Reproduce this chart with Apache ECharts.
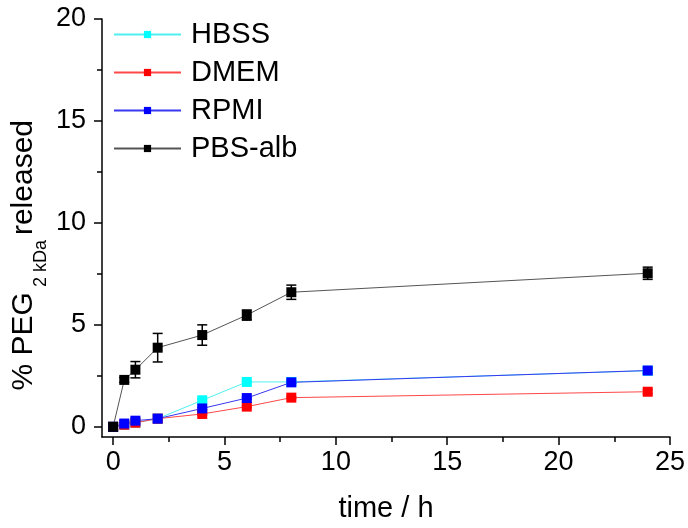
<!DOCTYPE html>
<html>
<head>
<meta charset="utf-8">
<script src="https://cdn.jsdelivr.net/npm/echarts@6/dist/echarts.min.js"></script>
<style>html,body{margin:0;padding:0;background:#fff;}#c{width:688px;height:528px;}</style>
</head>
<body>
<div id="c"></div>
<script>
var times = [0, 0.5, 1, 2, 4, 6, 8, 24];
var hbss = [0, 0.1, 0.2, 0.4, 1.3, 2.2, 2.2, 2.75];
var dmem = [0, 0.1, 0.2, 0.4, 0.63, 0.99, 1.43, 1.72];
var rpmi = [0, 0.16, 0.3, 0.4, 0.9, 1.41, 2.18, 2.76];
var pbsAlb = [0, 2.3, 2.8, 3.88, 4.5, 5.48, 6.6, 7.53];
var hbssErr = [0, 0, 0, 0, 0.05, 0.05, 0.05, 0.1];
var dmemErr = [0, 0, 0, 0, 0.05, 0.05, 0.05, 0.1];
var rpmiErr = [0, 0, 0, 0, 0.05, 0.05, 0.05, 0.15];
var pbsAlbErr = [0, 0.12, 0.4, 0.7, 0.5, 0.25, 0.35, 0.3];
var xMajor = [0, 5, 10, 15, 20, 25];
var xMinor = [2.5, 7.5, 12.5, 17.5, 22.5];
var yMajor = [0, 5, 10, 15, 20];
var yMinor = [2.5, 7.5, 12.5, 17.5];

var seriesDefs = [
  {name: 'HBSS', data: hbss, err: hbssErr, color: '#00FFFF', line: '#50F0F0'},
  {name: 'DMEM', data: dmem, err: dmemErr, color: '#FF0000', line: '#FF4848'},
  {name: 'RPMI', data: rpmi, err: rpmiErr, color: '#0000FF', line: '#3838F0'},
  {name: 'PBS-alb', data: pbsAlb, err: pbsAlbErr, color: '#000000', line: '#555555'}
];

var font = 'Liberation Sans, Arial, sans-serif';
var series = [];
seriesDefs.forEach(function (s) {
  var pts = times.map(function (t, i) { return [t, s.data[i]]; });
  var errPts = times.map(function (t, i) { return [t, s.data[i], s.err[i]]; });
  series.push({
    type: 'custom', name: s.name + ' err', silent: true,
    data: errPts, z: 3,
    renderItem: function (params, api) {
      var x = api.value(0), y = api.value(1), e = api.value(2);
      if (!e) return null;
      var top = api.coord([x, y + e]);
      var bot = api.coord([x, y - e]);
      var w = 5;
      var st = {stroke: s.color, lineWidth: 1.5};
      return {type: 'group', children: [
        {type: 'line', shape: {x1: top[0], y1: top[1], x2: bot[0], y2: bot[1]}, style: st},
        {type: 'line', shape: {x1: top[0] - w, y1: top[1], x2: top[0] + w, y2: top[1]}, style: st},
        {type: 'line', shape: {x1: bot[0] - w, y1: bot[1], x2: bot[0] + w, y2: bot[1]}, style: st}
      ]};
    }
  });
  series.push({
    type: 'line', name: s.name, data: pts, z: 4,
    symbol: 'rect', symbolSize: 10, showAllSymbol: true,
    itemStyle: {color: s.color},
    lineStyle: {color: s.line, width: 1},
    emphasis: {disabled: true}, animation: false
  });
});

var chart = echarts.init(document.getElementById('c'));
chart.setOption({
  animation: false,
  backgroundColor: '#fff',
  grid: {left: 102, right: 16, top: 19, bottom: 89, containLabel: false},
  legend: {
    orient: 'vertical', left: 108, top: 15, itemGap: 9,
    itemWidth: 67, itemHeight: 9,
    data: seriesDefs.map(function (s) { return s.name; }),
    textStyle: {fontFamily: font, fontSize: 29, color: '#000', padding: [0, 0, 0, 5]}
  },
  xAxis: [{
    type: 'value', min: -0.5, max: 25, position: 'bottom',
    name: 'time / h', nameLocation: 'middle', nameGap: 57,
    nameTextStyle: {fontFamily: font, fontSize: 29, color: '#000'},
    axisLine: {onZero: false, lineStyle: {color: '#000', width: 1.5}},
    axisTick: {show: true, length: 8, customValues: xMajor, lineStyle: {color: '#000', width: 1.5}},
    axisLabel: {customValues: xMajor, fontFamily: font, fontSize: 27, color: '#000', margin: 12},
    splitLine: {show: false}
  }, {
    type: 'value', min: -0.5, max: 25, position: 'bottom',
    axisLine: {show: false, onZero: false},
    axisTick: {show: true, length: 5, customValues: xMinor, lineStyle: {color: '#000', width: 1.5}},
    axisLabel: {show: false}, splitLine: {show: false}
  }],
  yAxis: [{
    type: 'value', min: -0.5, max: 20, position: 'left',
    axisLine: {onZero: false, lineStyle: {color: '#000', width: 1.5}},
    axisTick: {show: true, length: 8, customValues: yMajor, lineStyle: {color: '#000', width: 1.5}},
    axisLabel: {customValues: yMajor, fontFamily: font, fontSize: 27, color: '#000', margin: 16},
    splitLine: {show: false}
  }, {
    type: 'value', min: -0.5, max: 20, position: 'left',
    axisLine: {show: false, onZero: false},
    axisTick: {show: true, length: 5, customValues: yMinor, lineStyle: {color: '#000', width: 1.5}},
    axisLabel: {show: false}, splitLine: {show: false}
  }],
  graphic: [{
    type: 'text', left: 9, top: 120, rotation: Math.PI / 2,
    style: {
      text: '{a|% PEG}{s| 2 kDa }{a|released}',
      rich: {
        a: {fontFamily: font, fontSize: 30, fill: '#000'},
        s: {fontFamily: font, fontSize: 18, fill: '#000', padding: [35, 0, 0, 0]}
      }
    }
  }],
  series: series
});
</script>
</body>
</html>
